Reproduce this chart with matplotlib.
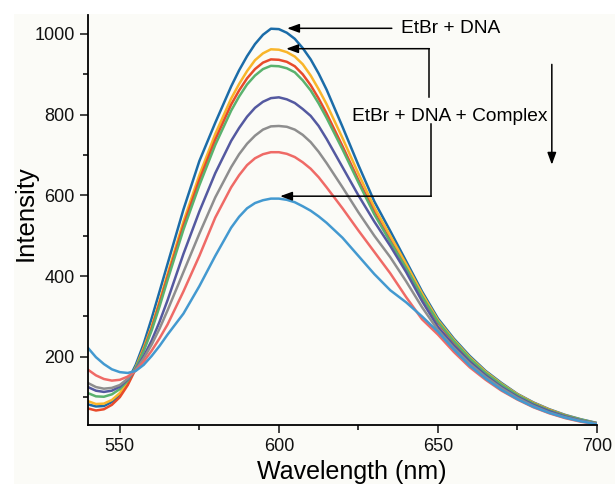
import matplotlib.pyplot as plt
from matplotlib.patches import Rectangle

plt.rcParams["font.family"] = ["Liberation Sans", "DejaVu Sans"]

# ── data ──────────────────────────────────────────────────────────────────────
wavelength = [540, 542.5, 545, 547.5, 550, 552.5, 555, 557.5, 560, 562.5, 565, 570, 575, 580,
              585, 587.5, 590, 592.5, 595, 597.5, 600, 602.5, 605, 607.5, 610, 612.5, 615,
              620, 625, 630, 635, 640, 645, 650, 655, 660, 665, 670, 675, 680, 685, 690, 695, 700]

etbr_dna = [82, 77, 78, 88, 106, 140, 180, 232, 295, 362, 430, 565, 685, 780,
            870, 910, 945, 975, 998, 1013, 1012, 1003, 988, 965, 937, 902, 862,
            770, 675, 585, 512, 437, 362, 295, 245, 202, 165, 135, 108, 87, 70, 56, 45, 36]
complex_1 = [90, 83, 84, 93, 110, 137, 174, 222, 275, 338, 405, 535, 650, 752,
             840, 876, 908, 935, 952, 962, 961, 955, 944, 925, 897, 863, 826,
             742, 654, 570, 500, 430, 357, 291, 242, 199, 163, 133, 107, 86, 69, 55, 44, 35]
complex_2 = [72, 67, 70, 81, 100, 130, 170, 217, 270, 333, 398, 525, 638, 738,
             825, 860, 890, 913, 929, 937, 936, 931, 920, 900, 873, 840, 803,
             722, 638, 558, 488, 419, 348, 284, 236, 193, 158, 129, 104, 84, 67, 54, 43, 35]
complex_3 = [110, 102, 101, 107, 120, 141, 172, 214, 265, 325, 390, 515, 625, 725,
             810, 845, 875, 897, 913, 921, 920, 915, 905, 885, 860, 828, 792,
             714, 632, 553, 485, 420, 350, 287, 239, 196, 160, 131, 105, 84, 67, 54, 44, 35]
complex_4 = [125, 116, 113, 116, 126, 144, 169, 201, 240, 287, 340, 455, 560, 655,
             735, 767, 795, 817, 832, 841, 843, 838, 829, 814, 797, 772, 740,
             670, 600, 535, 475, 410, 338, 274, 228, 188, 154, 125, 101, 81, 65, 52, 42, 34]
complex_5 = [135, 125, 121, 123, 130, 146, 168, 196, 230, 270, 315, 410, 505, 595,
             670, 702, 728, 748, 763, 771, 772, 770, 763, 750, 732, 708, 680,
             620, 558, 500, 447, 387, 323, 266, 222, 183, 150, 122, 98, 78, 62, 50, 41, 34]
complex_6 = [168, 154, 145, 141, 143, 151, 166, 188, 215, 246, 280, 362, 450, 545,
             620, 650, 675, 692, 702, 707, 707, 703, 695, 682, 666, 645, 620,
             568, 513, 460, 407, 348, 293, 255, 212, 174, 143, 116, 94, 75, 60, 48, 39, 33]
complex_7 = [222, 199, 182, 169, 162, 160, 165, 180, 202, 227, 255, 307, 375, 450,
             520, 547, 568, 581, 588, 592, 592, 589, 583, 573, 562, 548, 532,
             495, 450, 405, 365, 335, 300, 262, 218, 178, 146, 118, 95, 76, 61, 49, 40, 33]

series = [etbr_dna, complex_1, complex_2, complex_3,
          complex_4, complex_5, complex_6, complex_7]
colors = ["#1b6ca8", "#f9b52a", "#e84a2a", "#5ab26e",
          "#5459a0", "#8e8e8e", "#ef6a66", "#4399d0"]

x_ticks = [550, 600, 650, 700]
y_ticks = [200, 400, 600, 800, 1000]

# ── figure ────────────────────────────────────────────────────────────────────
fig = plt.figure(figsize=(6.15, 4.84), dpi=100)
fig.patch.set_facecolor("white")
fig.patches.append(Rectangle((14 / 615, 0), 1, 1 - 14 / 484, transform=fig.transFigure,
                             facecolor="#fbfbf7", edgecolor="none", zorder=-10))
ax = fig.add_axes([88 / 615, 59 / 484, 509 / 615, 410 / 484])
ax.set_facecolor("none")

for values, c in zip(series, colors):
    ax.plot(wavelength, values, color=c, lw=1.8, solid_capstyle="round", solid_joinstyle="round")

ax.set_xlim(540, 700)
ax.set_ylim(31, 1047)
ax.set_xticks(x_ticks)
ax.set_xticks([575, 625, 675], minor=True)
ax.set_yticks(y_ticks)
ax.set_yticks([100, 300, 500, 700, 900], minor=True)
ax.tick_params(which="major", direction="out", length=6, width=1.1, labelsize=13, colors="#111111")
ax.tick_params(which="minor", direction="out", length=3.5, width=1.1)
ax.spines[["top", "right"]].set_visible(False)
for s in ["left", "bottom"]:
    ax.spines[s].set_linewidth(1.3)

ax.set_xlabel("Wavelength (nm)", fontsize=18)
ax.xaxis.set_label_coords(0.518, -0.086)
ax.set_ylabel("Intensity", fontsize=18.5)
ax.yaxis.set_label_coords(-0.098, 0.517)

# ── annotations ───────────────────────────────────────────────────────────────
arrow = dict(arrowstyle="-|>,head_length=0.6,head_width=0.22", color="k", lw=1.1,
             mutation_scale=12, shrinkA=0, shrinkB=0)

ax.annotate("", xy=(602.6, 1014), xytext=(635.5, 1014), arrowprops=arrow, annotation_clip=False)
ax.text(638.3, 1014, "EtBr + DNA", ha="left", va="center", fontsize=13.8)

ax.plot([647.3, 647.3], [843, 963.5], color="k", lw=1.1, clip_on=False)
ax.annotate("", xy=(602.3, 963.5), xytext=(647.3, 963.5), arrowprops=arrow, annotation_clip=False)
ax.plot([647.9, 647.9], [776, 598], color="k", lw=1.1, clip_on=False)
ax.annotate("", xy=(600.4, 598), xytext=(647.9, 598), arrowprops=arrow, annotation_clip=False)
ax.text(653.8, 796, "EtBr + DNA + Complex", ha="center", va="center", fontsize=13.8)

ax.annotate("", xy=(685.8, 676), xytext=(685.8, 924.6), arrowprops=arrow, annotation_clip=False)

plt.savefig("out.png", dpi=100)
